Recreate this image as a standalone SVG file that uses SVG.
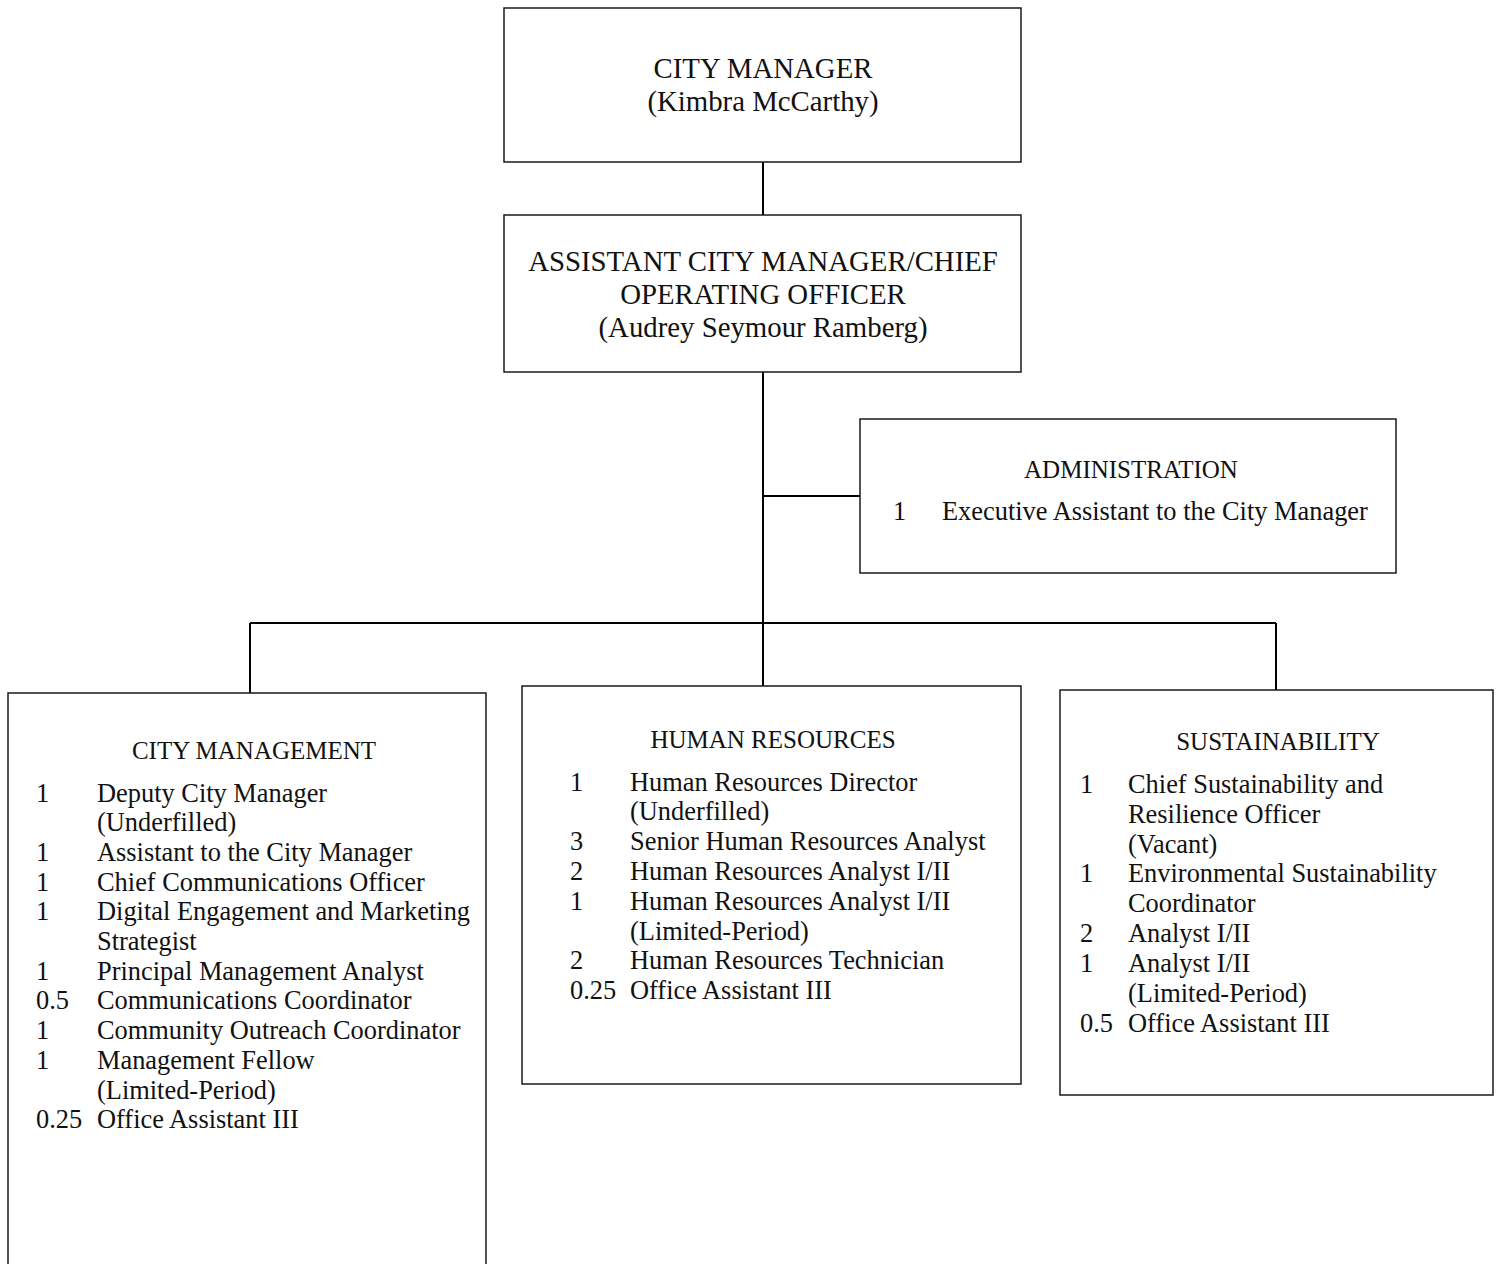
<svg xmlns="http://www.w3.org/2000/svg" width="1496" height="1264" viewBox="0 0 1496 1264">
<style>
  .box { fill: #ffffff; stroke: #1a1a1a; stroke-width: 1.5; }
  .conn { stroke: #000000; stroke-width: 2; fill: none; }
  text { font-family: "Liberation Serif", "Times New Roman", serif; fill: #111111; }
  .top { font-size: 28.8px; text-anchor: middle; }
  .hd { font-size: 25px; text-anchor: middle; }
  .li { font-size: 26.4px; }
</style>
<rect x="0" y="0" width="1496" height="1264" fill="#ffffff"/>
<g id="connectors">
  <line class="conn" x1="763" y1="162" x2="763" y2="215"/>
  <line class="conn" x1="763" y1="372" x2="763" y2="623"/>
  <line class="conn" x1="763" y1="496" x2="860" y2="496"/>
  <line class="conn" x1="250" y1="623" x2="1276" y2="623"/>
  <line class="conn" x1="250" y1="623" x2="250" y2="693"/>
  <line class="conn" x1="763" y1="623" x2="763" y2="686"/>
  <line class="conn" x1="1276" y1="623" x2="1276" y2="690"/>
</g>
<g id="city-manager">
  <rect class="box" x="504" y="8" width="517" height="154"/>
  <text class="top" x="763" y="78">CITY MANAGER</text>
  <text class="top" x="763" y="111">(Kimbra McCarthy)</text>
</g>
<g id="assistant-city-manager">
  <rect class="box" x="504" y="215" width="517" height="157"/>
  <text class="top" x="763" y="271">ASSISTANT CITY MANAGER/CHIEF</text>
  <text class="top" x="763" y="304">OPERATING OFFICER</text>
  <text class="top" x="763" y="337">(Audrey Seymour Ramberg)</text>
</g>
<g id="administration">
  <rect class="box" x="860" y="419" width="536" height="154"/>
  <text class="hd" x="1131" y="478">ADMINISTRATION</text>
  <text class="li" x="893" y="520">1</text>
  <text class="li" x="942" y="520">Executive Assistant to the City Manager</text>
</g>
<g id="city-management">
  <rect class="box" x="8" y="693" width="478" height="580"/>
  <text class="hd" x="254" y="759">CITY MANAGEMENT</text>
  <text class="li" x="36" y="801.5">1</text><text class="li" x="97" y="801.5">Deputy City Manager</text>
  <text class="li" x="97" y="831.2">(Underfilled)</text>
  <text class="li" x="36" y="860.9">1</text><text class="li" x="97" y="860.9">Assistant to the City Manager</text>
  <text class="li" x="36" y="890.6">1</text><text class="li" x="97" y="890.6">Chief Communications Officer</text>
  <text class="li" x="36" y="920.3">1</text><text class="li" x="97" y="920.3">Digital Engagement and Marketing</text>
  <text class="li" x="97" y="950">Strategist</text>
  <text class="li" x="36" y="979.7">1</text><text class="li" x="97" y="979.7">Principal Management Analyst</text>
  <text class="li" x="36" y="1009.4">0.5</text><text class="li" x="97" y="1009.4">Communications Coordinator</text>
  <text class="li" x="36" y="1039.1">1</text><text class="li" x="97" y="1039.1">Community Outreach Coordinator</text>
  <text class="li" x="36" y="1068.8">1</text><text class="li" x="97" y="1068.8">Management Fellow</text>
  <text class="li" x="97" y="1098.5">(Limited-Period)</text>
  <text class="li" x="36" y="1128.2">0.25</text><text class="li" x="97" y="1128.2">Office Assistant III</text>
</g>
<g id="human-resources">
  <rect class="box" x="522" y="686" width="499" height="398"/>
  <text class="hd" x="773" y="748">HUMAN RESOURCES</text>
  <text class="li" x="570" y="790.5">1</text><text class="li" x="630" y="790.5">Human Resources Director</text>
  <text class="li" x="630" y="820.3">(Underfilled)</text>
  <text class="li" x="570" y="850.1">3</text><text class="li" x="630" y="850.1">Senior Human Resources Analyst</text>
  <text class="li" x="570" y="879.9">2</text><text class="li" x="630" y="879.9">Human Resources Analyst I/II</text>
  <text class="li" x="570" y="909.7">1</text><text class="li" x="630" y="909.7">Human Resources Analyst I/II</text>
  <text class="li" x="630" y="939.5">(Limited-Period)</text>
  <text class="li" x="570" y="969.3">2</text><text class="li" x="630" y="969.3">Human Resources Technician</text>
  <text class="li" x="570" y="999.1">0.25</text><text class="li" x="630" y="999.1">Office Assistant III</text>
</g>
<g id="sustainability">
  <rect class="box" x="1060" y="690" width="433" height="405"/>
  <text class="hd" x="1278" y="750">SUSTAINABILITY</text>
  <text class="li" x="1080" y="792.7">1</text><text class="li" x="1128" y="792.7">Chief Sustainability and</text>
  <text class="li" x="1128" y="822.6">Resilience Officer</text>
  <text class="li" x="1128" y="852.5">(Vacant)</text>
  <text class="li" x="1080" y="882.4">1</text><text class="li" x="1128" y="882.4">Environmental Sustainability</text>
  <text class="li" x="1128" y="912.3">Coordinator</text>
  <text class="li" x="1080" y="942.2">2</text><text class="li" x="1128" y="942.2">Analyst I/II</text>
  <text class="li" x="1080" y="972.1">1</text><text class="li" x="1128" y="972.1">Analyst I/II</text>
  <text class="li" x="1128" y="1002">(Limited-Period)</text>
  <text class="li" x="1080" y="1031.9">0.5</text><text class="li" x="1128" y="1031.9">Office Assistant III</text>
</g>
</svg>
